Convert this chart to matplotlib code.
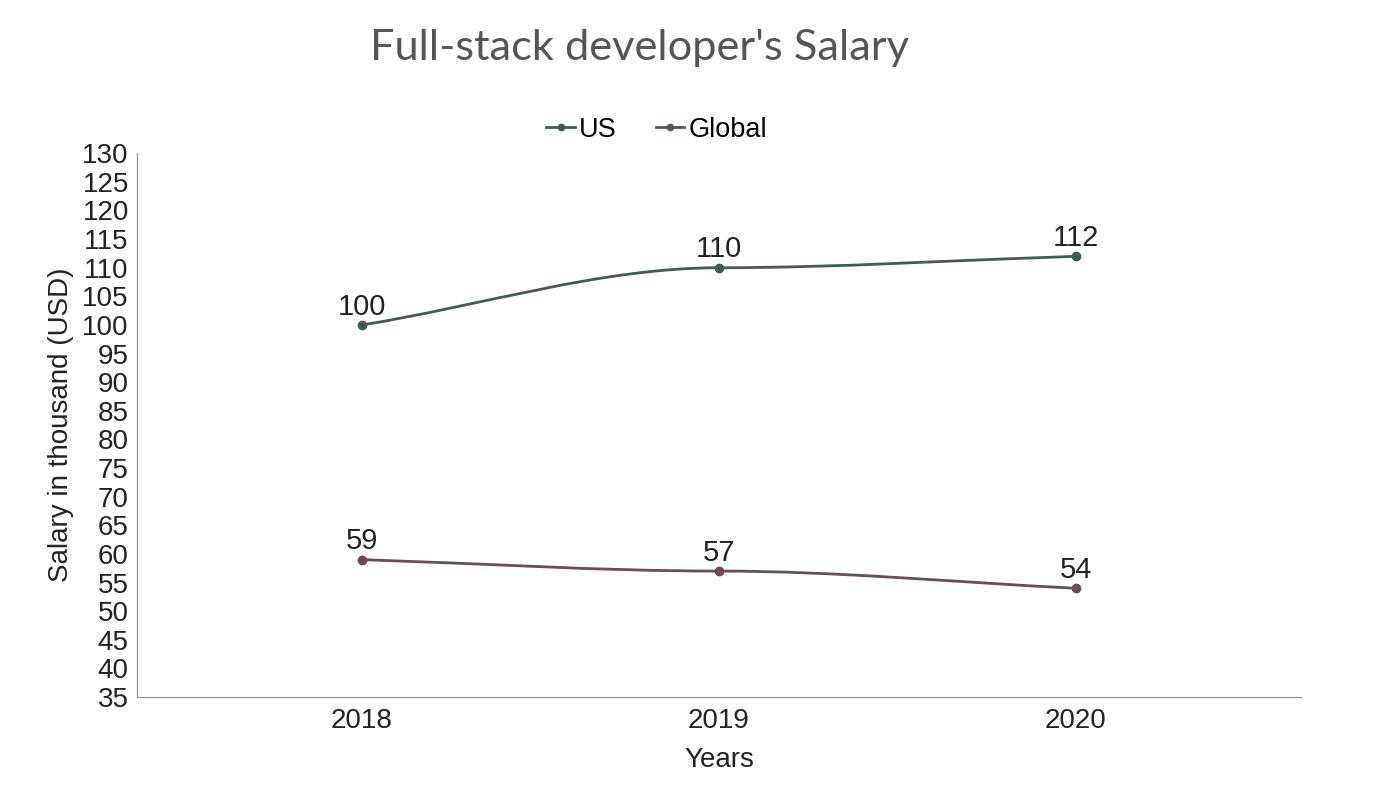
import numpy as np
import matplotlib
matplotlib.use('Agg')
import matplotlib.pyplot as plt
from matplotlib.path import Path
from matplotlib.patches import PathPatch

plt.rcParams['font.family'] = ['Liberation Sans', 'DejaVu Sans']

years = ['2018', '2019', '2020']
us = [100, 110, 112]
global_sal = [59, 57, 54]
y_ticks = list(range(35, 131, 5))

color_us = '#3e5c52'
color_global = '#6d4b4e'


# Linea suavizada: tangente horizontal en los puntos interiores,
# pendiente de la secante en los extremos (Hermite -> Bezier)
def curva(ax, y, color):
    x = np.arange(len(y), dtype=float)
    y = np.asarray(y, dtype=float)
    m = np.zeros(len(y))
    m[0] = (y[1] - y[0]) / (x[1] - x[0])
    m[-1] = (y[-1] - y[-2]) / (x[-1] - x[-2])
    verts = [(x[0], y[0])]
    codes = [Path.MOVETO]
    for i in range(len(y) - 1):
        h = x[i + 1] - x[i]
        verts += [(x[i] + h / 3, y[i] + m[i] * h / 3),
                  (x[i + 1] - h / 3, y[i + 1] - m[i + 1] * h / 3),
                  (x[i + 1], y[i + 1])]
        codes += [Path.CURVE4] * 3
    ax.add_patch(PathPatch(Path(verts, codes), facecolor='none', edgecolor=color, lw=2))
    ax.plot(x, y, 'o', color=color, ms=6)
    for xi, yi in zip(x, y):
        ax.annotate(f'{yi:.0f}', (xi, yi), xytext=(0, 3.2), textcoords='offset points',
                    ha='center', va='bottom', fontsize=21, color='#222222')


fig = plt.figure(figsize=(14, 7.88), dpi=100)
ax = fig.add_axes([0.098, 0.1155, 0.831, 0.69])

ax.set_xlim(-0.63, 2.63)
ax.set_ylim(35, 130)

curva(ax, us, color_us)
curva(ax, global_sal, color_global)

# Leyenda
ax.plot([], [], '-o', color=color_us, ms=4.5, lw=2, label='US')
ax.plot([], [], '-o', color=color_global, ms=4.5, lw=2, label='Global')
ax.legend(loc='center', bbox_to_anchor=(0.4465, 1.043), ncol=2, frameon=False,
          fontsize=19.5, handlelength=1.05, handletextpad=0.15, columnspacing=1.45,
          markerscale=1)

ax.set_xticks(range(len(years)))
ax.set_xticklabels(years)
ax.set_yticks(y_ticks)
ax.tick_params(length=0, labelsize=20, colors='#222222', pad=8)
ax.tick_params(axis='y', pad=6)

for side in ['top', 'right']:
    ax.spines[side].set_visible(False)
for side in ['left', 'bottom']:
    ax.spines[side].set_color('#8a8a8a')

ax.set_xlabel('Years', fontsize=20, color='#222222', labelpad=9)
ax.set_ylabel('Salary in thousand (USD)', fontsize=20, color='#222222', labelpad=6)

fig.text(0.457, 0.939, "Full-stack developer's Salary", family='Lato', fontsize=31.2,
         color='#555555', ha='center', va='center')

fig.savefig('out.png', dpi=100)
